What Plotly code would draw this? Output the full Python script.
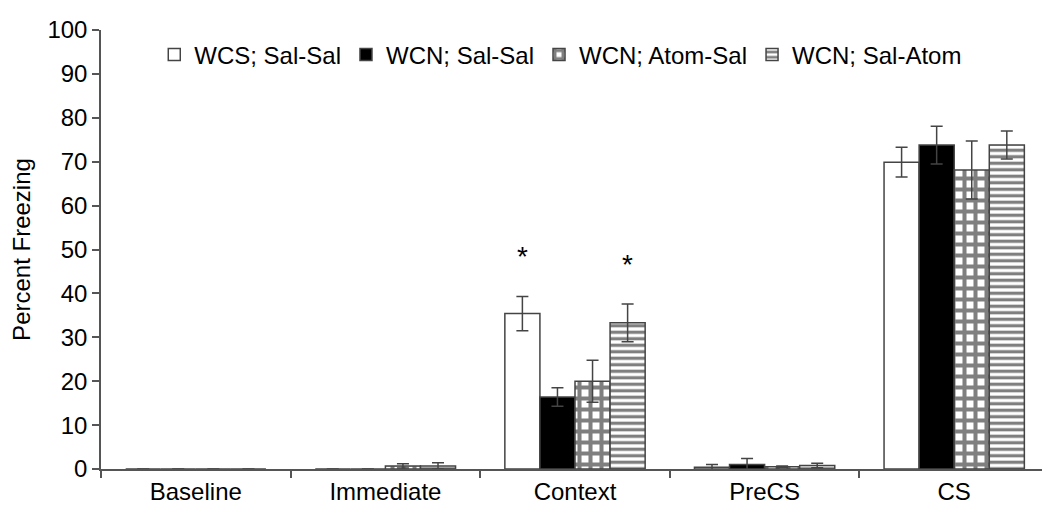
import plotly.graph_objects as go

categories = ["Baseline", "Immediate", "Context", "PreCS", "CS"]
series_names = ["WCS; Sal-Sal", "WCN; Sal-Sal", "WCN; Atom-Sal", "WCN; Sal-Atom"]
wcs_sal_sal = [0, 0, 35.4, 0.4, 69.9]
wcs_sal_sal_err = [0, 0, 3.9, 0.6, 3.4]
wcn_sal_sal = [0, 0, 16.4, 1.0, 73.8]
wcn_sal_sal_err = [0, 0, 2.1, 1.4, 4.3]
wcn_atom_sal = [0, 0.7, 20.0, 0.5, 68.1]
wcn_atom_sal_err = [0, 0.5, 4.8, 0.2, 6.6]
wcn_sal_atom = [0, 0.7, 33.3, 0.8, 73.8]
wcn_sal_atom_err = [0, 0.7, 4.3, 0.5, 3.2]
y_ticks = [0, 10, 20, 30, 40, 50, 60, 70, 80, 90, 100]
# significance markers: (category index, series index, y value)
stars = [(2, 0, 48.3), (2, 3, 46.5)]

values = [wcs_sal_sal, wcn_sal_sal, wcn_atom_sal, wcn_sal_atom]
errors = [wcs_sal_sal_err, wcn_sal_sal_err, wcn_atom_sal_err, wcn_sal_atom_err]
styles = [
    dict(color="white"),
    dict(color="black"),
    dict(color="white", pattern=dict(shape="+", fgcolor="black", bgcolor="white", size=11, solidity=0.6)),
    dict(color="white", pattern=dict(shape="-", fgcolor="black", bgcolor="white", size=6.5, solidity=0.5)),
]

fig = go.Figure()
for name, v, e, st in zip(series_names, values, errors, styles):
    fig.add_trace(go.Bar(
        name=name, x=categories, y=v,
        error_y=dict(type="data", array=e, visible=True, color="#444444", thickness=1.5, width=6),
        marker=dict(line=dict(color="#444444", width=1.5), **st),
    ))

bargap = 0.26
bw = (1 - bargap) / 4
for ci, si, yv in stars:
    fig.add_annotation(x=ci - (1 - bargap) / 2 + bw * (si + 0.5), y=yv, xref="x", yref="y",
                       text="*", showarrow=False, font=dict(size=28, color="black"))

fig.update_layout(
    width=1050, height=516,
    margin=dict(l=93, r=9, t=22, b=55),
    paper_bgcolor="white", plot_bgcolor="white",
    barmode="group", bargap=bargap, bargroupgap=0,
    font=dict(family="Liberation Sans, Arial, sans-serif", size=24, color="black"),
    legend=dict(orientation="h", x=0.485, xanchor="center", y=0.943, yanchor="middle",
                font=dict(size=24), bgcolor="rgba(0,0,0,0)", traceorder="normal",
                itemwidth=30),
    showlegend=True,
)
fig.update_yaxes(range=[0, 100], tickvals=y_ticks, showgrid=False, zeroline=False,
                 showline=True, linecolor="#555555", linewidth=1.5,
                 ticks="outside", ticklen=7, tickcolor="#555555", tickwidth=1.5,
                 tickfont=dict(size=24),
                 title=dict(text="Percent Freezing", font=dict(size=24), standoff=12))
fig.update_xaxes(showline=True, linecolor="#555555", linewidth=1.5, showgrid=False,
                 ticks="outside", tickson="boundaries", ticklen=7, tickcolor="#555555",
                 tickwidth=1.5, tickfont=dict(size=24))

fig.write_html("out.html")
